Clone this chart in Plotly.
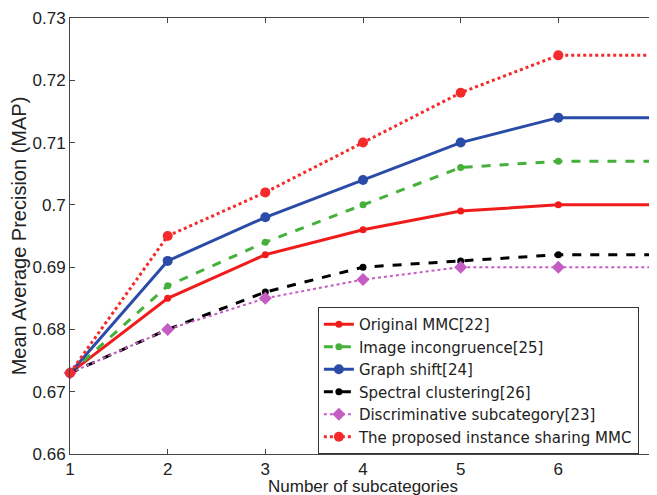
import plotly.graph_objects as go

x_vals = [1, 2, 3, 4, 5, 6, 7]
original_mmc = [0.673, 0.685, 0.692, 0.696, 0.699, 0.700, 0.700]
image_incongruence = [0.673, 0.687, 0.694, 0.700, 0.706, 0.707, 0.707]
graph_shift = [0.673, 0.691, 0.698, 0.704, 0.710, 0.714, 0.714]
spectral_clustering = [0.673, 0.680, 0.686, 0.690, 0.691, 0.692, 0.692]
discriminative = [0.673, 0.680, 0.685, 0.688, 0.690, 0.690, 0.690]
proposed = [0.673, 0.695, 0.702, 0.710, 0.718, 0.724, 0.724]

y_ticks = [0.66, 0.67, 0.68, 0.69, 0.70, 0.71, 0.72, 0.73]
y_tick_text = ["0.66", "0.67", "0.68", "0.69", "0.7", "0.71", "0.72", "0.73"]

series = [
    ("Original MMC[22]", original_mmc, "#f01c1c", "solid", 3, "circle", 7),
    ("Image incongruence[25]", image_incongruence, "#45b03a", "dash", 3, "circle", 7),
    ("Graph shift[24]", graph_shift, "#2a4ca8", "solid", 3, "circle", 10),
    ("Spectral clustering[26]", spectral_clustering, "#000000", "dash", 3, "circle", 7),
    ("Discriminative subcategory[23]", discriminative, "#c45cc4", "dot", 2, "diamond", 10),
    ("The proposed instance sharing MMC", proposed, "#f52a2a", "dot", 3, "circle", 10),
]

fig = go.Figure()
for name, vals, color, dash, width, sym, msize in series:
    fig.add_trace(go.Scatter(
        x=x_vals, y=vals, name=name, mode="lines+markers",
        line=dict(color=color, dash=dash, width=width),
        marker=dict(color=color, symbol=sym, size=msize),
        cliponaxis=False,
    ))

font_family = "Liberation Sans, Arial, sans-serif"
fig.update_layout(
    width=657, height=495,
    margin=dict(l=62, r=9, t=10, b=49),
    paper_bgcolor="white", plot_bgcolor="white",
    font=dict(family=font_family, size=17, color="#222"),
    legend=dict(
        x=0.423, y=0, xanchor="left", yanchor="bottom",
        bgcolor="white", bordercolor="#333", borderwidth=1,
        font=dict(family="DejaVu Sans, sans-serif", size=15, color="#222"),
        tracegroupgap=0,
    ),
    showlegend=True,
    annotations=[dict(
        text="Number of subcategories", xref="paper", yref="paper",
        x=0.5, y=0, xanchor="center", yanchor="top", yshift=-21,
        showarrow=False, font=dict(size=17, color="#222"),
    )],
)
fig.update_xaxes(
    range=[1, 7], tickvals=x_vals, ticktext=[str(v) for v in x_vals],
    showgrid=False, zeroline=False, showline=True, mirror="ticks",
    linecolor="#444", linewidth=1, ticks="inside", ticklen=5, tickcolor="#444",
    tickfont=dict(size=17),
    automargin=False,
)
fig.update_yaxes(
    range=[0.66, 0.73], tickvals=y_ticks, ticktext=y_tick_text,
    showgrid=False, zeroline=False, showline=True, mirror="ticks",
    linecolor="#444", linewidth=1, ticks="inside", ticklen=5, tickcolor="#444",
    title=dict(text="Mean Average Precision (MAP)", standoff=6),
    tickfont=dict(size=17),
    automargin=False,
)

fig.write_html("out.html")
